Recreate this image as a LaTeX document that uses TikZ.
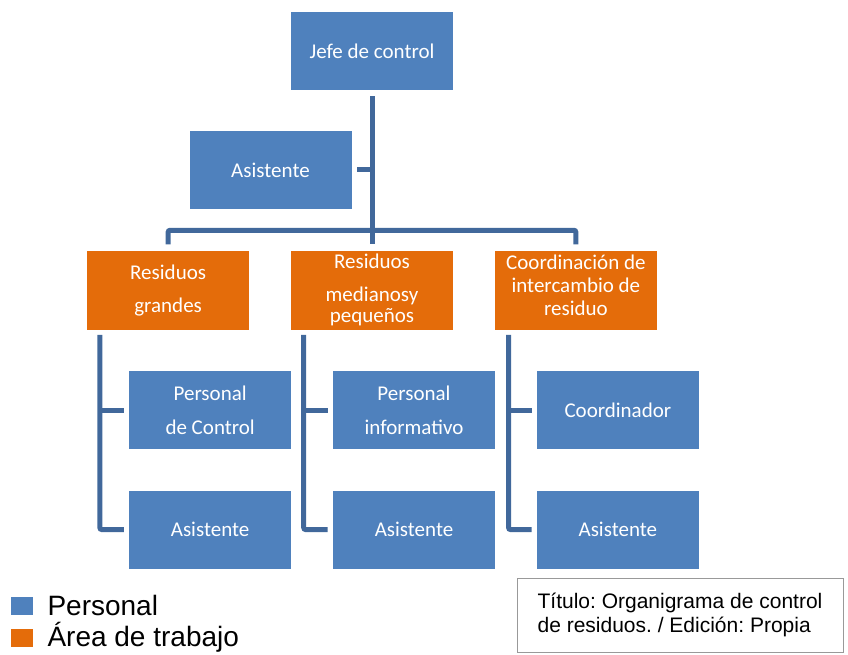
\documentclass[tikz,border=0pt]{standalone}
\usepackage{fontspec}
\setmainfont{Carlito}
\newfontfamily\keyfont{Liberation Sans}
\usetikzlibrary{positioning}
\definecolor{staffblue}{HTML}{4F81BD}
\definecolor{areaorange}{HTML}{E46C0A}
\definecolor{linkblue}{HTML}{41689B}
\frenchspacing

\begin{document}
\begin{tikzpicture}[
  x=0.75pt, y=-0.75pt,
  font=\fontsize{15.75}{17.25}\selectfont,
  staff/.style={fill=staffblue, text=white, align=center, inner sep=2pt, minimum width=121.5pt, minimum height=58.5pt},
  area/.style={fill=areaorange, text=white, align=center, inner sep=2pt, minimum width=121.5pt, minimum height=59.25pt},
  link/.style={draw=linkblue, line width=3.75pt, rounded corners=1.5pt},
  keybox/.style={minimum width=16.5pt, minimum height=13.5pt, inner sep=0pt},
  keytext/.style={font=\keyfont\fontsize{21}{24}\selectfont, inner sep=0pt, anchor=base west},
  caption/.style={draw=gray!80, line width=0.75pt, font=\keyfont\fontsize{15.75}{18}\selectfont, align=left, minimum width=244.5pt, minimum height=55.5pt}
]
\useasboundingbox (0,0) rectangle (848,655);

% head and assistant
\node[staff] (jefe) at (372,51) {Jefe de control};
\node[staff] (asis) at (270.5,170) {Asistente};

% work areas
\node[area, below=120pt of jefe] (medianos) {Residuos\\[7.5pt]medianosy\\[-1.5pt]pequeños};
\node[area, left=31pt of medianos] (grandes) {Residuos\\[7.5pt]grandes};
\node[area, right=31pt of medianos] (coord) {Coordinación de\\intercambio de\\residuo\rule[-7.5pt]{0pt}{7.5pt}};

% staff of each area
\node[staff, below=30.75pt of grandes, xshift=31.5pt] (persg) {Personal\\[8pt]de Control};
\node[staff, below=30.75pt of persg] (asisg) {Asistente};
\node[staff, below=30.75pt of medianos, xshift=31.5pt] (persm) {Personal\\[8pt]informativo};
\node[staff, below=30.75pt of persm] (asism) {Asistente};
\node[staff, below=30.75pt of coord, xshift=31.5pt] (persc) {Coordinador};
\node[staff, below=30.75pt of persc] (asisc) {Asistente};

% connectors
\draw[link, shorten <=4.5pt, shorten >=4.5pt] (jefe) -- (medianos);
\draw[link] ([xshift=4pt]asis.east) -- (asis.east -| jefe.south);
\draw[link] ([yshift=4.5pt]grandes.north) |- ([yshift=15pt]medianos.north) -| ([yshift=4.5pt]coord.north);

\coordinate (g-top) at ([xshift=9.75pt, yshift=-3.75pt]grandes.south west);
\coordinate (m-top) at ([xshift=9.75pt, yshift=-3.75pt]medianos.south west);
\coordinate (c-top) at ([xshift=10.5pt, yshift=-3.75pt]coord.south west);
\draw[link] (g-top) |- ([xshift=-3.75pt]asisg.west);
\draw[link] (g-top |- persg.west) -- ([xshift=-3.75pt]persg.west);
\draw[link] (m-top) |- ([xshift=-3.75pt]asism.west);
\draw[link] (m-top |- persm.west) -- ([xshift=-3.75pt]persm.west);
\draw[link] (c-top) |- ([xshift=-3.75pt]asisc.west);
\draw[link] (c-top |- persc.west) -- ([xshift=-3.75pt]persc.west);

% legend
\node[keybox, fill=staffblue] (keyp) at (22,606) {};
\node[keybox, fill=areaorange] (keya) at (22,637.5) {};
\node[keytext] (lblp) at ([xshift=10.5pt]keyp.south east) {Personal};
\node[keytext] (lbla) at ([xshift=10.5pt]keya.south east) {Área de trabajo};

% caption
\node[caption] (cap) at (680,615) {Título: Organigrama de control\\de residuos. / Edición: Propia};
\end{tikzpicture}
\end{document}
